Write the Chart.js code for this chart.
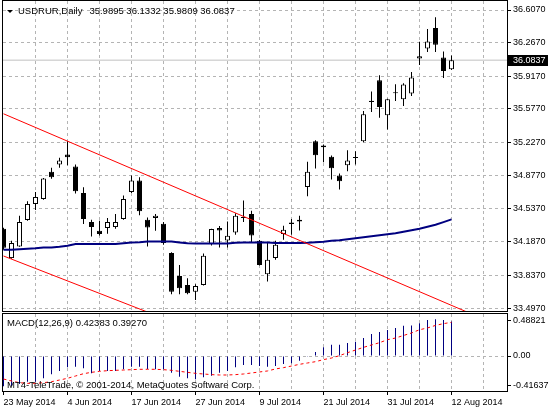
<!DOCTYPE html>
<html><head><meta charset="utf-8">
<script src="https://cdn.jsdelivr.net/npm/chart.js@4.4.1/dist/chart.umd.min.js"></script>
<style>
html,body{margin:0;padding:0;background:#fff;}
#wrap{position:relative;width:550px;height:410px;overflow:hidden;background:#fff;}
canvas{position:absolute;left:0;}
#main{top:0;}
#macd{top:312px;}
</style></head><body>
<div id="wrap"><canvas id="main" width="550" height="312"></canvas><canvas id="macd" width="550" height="98"></canvas></div>
<script>
// ---------- data ----------
const symbolTitle = 'USDRUR,Daily';
const dateLabels = ['23 May 2014','4 Jun 2014','17 Jun 2014','27 Jun 2014','9 Jul 2014','21 Jul 2014','31 Jul 2014','12 Aug 2014'];
const openP = [34.324,34.018,34.139,34.416,34.583,34.635,34.918,34.995,35.099,34.974,34.698,34.395,34.303,34.332,34.342,34.426,34.709,34.827,34.419,34.436,34.377,34.070,33.832,33.738,33.668,33.738,34.164,34.332,34.202,34.286,34.447,34.478,34.199,33.850,34.018,34.269,34.390,34.419,34.761,35.238,35.193,35.075,34.879,34.987,35.063,35.238,35.661,35.874,35.508,35.738,35.675,35.735,36.101,36.206,36.419,36.112,35.9895];
const highP = [34.335,34.199,34.461,34.610,34.709,34.855,34.960,35.065,35.238,34.995,34.757,34.419,34.408,34.436,34.478,34.670,34.879,34.862,34.443,34.478,34.395,34.080,33.947,33.808,33.745,34.066,34.325,34.353,34.401,34.485,34.618,34.513,34.206,34.175,34.199,34.356,34.426,34.461,35.023,35.249,35.204,35.089,34.900,35.144,35.134,35.553,35.756,35.926,35.680,35.832,35.843,35.961,36.275,36.408,36.531,36.175,36.1332];
const lowP = [34.104,34.010,34.136,34.408,34.520,34.628,34.845,34.960,34.987,34.691,34.374,34.244,34.254,34.272,34.324,34.419,34.698,34.464,34.139,34.303,34.157,33.641,33.641,33.641,33.581,33.731,34.149,34.129,34.129,34.262,34.395,34.185,33.940,33.773,34.000,34.209,34.262,34.307,34.663,34.953,35.019,34.837,34.733,34.924,34.995,35.228,35.542,35.483,35.361,35.657,35.605,35.710,36.034,36.170,36.170,35.898,35.9809];
const closeP = [34.125,34.175,34.395,34.583,34.656,34.848,34.862,35.036,35.071,34.715,34.426,34.342,34.269,34.395,34.395,34.635,34.827,34.506,34.338,34.461,34.175,33.668,33.703,33.651,33.728,34.042,34.321,34.307,34.251,34.461,34.436,34.254,33.947,34.000,34.157,34.314,34.374,34.401,34.918,35.092,35.176,34.956,34.820,35.036,35.068,35.518,35.647,35.594,35.675,35.748,35.829,35.902,36.125,36.279,36.244,35.971,36.0837];
const maValues = [34.104,34.104,34.110,34.115,34.120,34.128,34.128,34.136,34.146,34.164,34.164,34.164,34.164,34.164,34.164,34.172,34.181,34.183,34.191,34.191,34.191,34.191,34.181,34.172,34.170,34.170,34.170,34.170,34.170,34.178,34.181,34.181,34.181,34.181,34.175,34.175,34.175,34.175,34.178,34.183,34.188,34.199,34.204,34.215,34.225,34.235,34.246,34.256,34.267,34.277,34.293,34.309,34.324,34.345,34.366,34.393,34.422];
const macdMain = [-0.420,-0.417,-0.389,-0.357,-0.357,-0.310,-0.255,-0.208,-0.158,-0.148,-0.171,-0.241,-0.208,-0.208,-0.208,-0.185,-0.148,-0.148,-0.181,-0.185,-0.185,-0.232,-0.287,-0.310,-0.324,-0.297,-0.273,-0.232,-0.208,-0.158,-0.125,-0.125,-0.139,-0.148,-0.139,-0.111,-0.100,-0.065,-0.005,0.056,0.120,0.158,0.158,0.181,0.199,0.250,0.306,0.334,0.361,0.389,0.420,0.425,0.454,0.500,0.510,0.500,0.480];
const macdSignal = [-0.320,-0.347,-0.371,-0.380,-0.380,-0.371,-0.357,-0.334,-0.310,-0.278,-0.246,-0.227,-0.213,-0.204,-0.199,-0.195,-0.190,-0.185,-0.185,-0.185,-0.190,-0.199,-0.213,-0.227,-0.241,-0.250,-0.259,-0.264,-0.264,-0.259,-0.250,-0.236,-0.222,-0.208,-0.180,-0.162,-0.139,-0.116,-0.097,-0.079,-0.050,-0.028,0.005,0.046,0.083,0.120,0.153,0.185,0.227,0.250,0.285,0.320,0.365,0.390,0.425,0.450,0.468];
const trendUpperX = [0, 60];
const trendUpperY = [35.524, 33.382];
const trendLowerX = [0, 20];
const trendLowerY = [34.040, 33.390];
const bidPrice = 36.0837;
const priceTicks = [36.6070, 36.2670, 35.9170, 35.5770, 35.2270, 34.8770, 34.5370, 34.1870, 33.8370, 33.4970];
const macdTicks = [0.48821, 0, -0.41637];
const macdTickLabels = ['0.48821', '0.00', '-0.41637'];
const gridBars = [0,4,8,12,16,20,24,28,32,36,40,44,48,52,56,60];
const macdHeader = 'MACD(12,26,9) 0.42383 0.39270';
const copyrightText = 'MT4-TeleTrade, \u00A9 2001-2014, MetaQuotes Software Corp.';

// ---------- view ----------
const X_MIN = -0.0625, X_MAX = 62.9375;
const Y_MIN = 33.466, Y_MAX = 36.701;
const M_MIN = -0.4865, M_MAX = 0.5838;
const FAMILY = '"Liberation Sans", Arial, Helvetica, sans-serif';
const FONT = '9.5px ' + FAMILY;
const GRID = '#b4b4b4';
const DASH = [3, 3];

Chart.defaults.font.family = FAMILY;
Chart.defaults.font.size = 9;
Chart.defaults.color = '#000';

const idx = openP.map((_, i) => i);
const headerValues = [openP, highP, lowP, closeP].map(a => a[a.length - 1].toFixed(4)).join(' ');

function xScale(withLabels) {
  return {
    type: 'linear', min: X_MIN, max: X_MAX, offset: false, bounds: 'data',
    grid: {
      offset: false,
      color: c => (c.tick && c.tick.value === 0) ? 'rgba(0,0,0,0)' : GRID,
      lineWidth: 1,
      drawTicks: withLabels, tickLength: 4, tickBorderDash: [],
      tickColor: c => (c.tick && c.tick.value % 8 === 0) ? '#000' : 'rgba(0,0,0,0)'
    },
    border: { display: false, dash: DASH },
    ticks: {
      display: withLabels, autoSkip: false, maxRotation: 0, minRotation: 0,
      align: 'start', padding: 2, color: '#000', font: { size: 9 },
      callback: v => (v % 8 === 0 && dateLabels[v / 8]) ? dateLabels[v / 8] : ''
    },
    afterBuildTicks: s => { s.ticks = gridBars.map(v => ({ value: v })); },
    afterFit: s => { s.height = withLabels ? 19 : 0; s.paddingLeft = 0; s.paddingRight = 0; }
  };
}

function frame(chart) {
  const { ctx, chartArea: a } = chart;
  ctx.save();
  ctx.strokeStyle = '#000'; ctx.lineWidth = 1;
  ctx.strokeRect(a.left - 0.5, a.top - 0.5, a.right - a.left + 1, a.bottom - a.top + 1);
  ctx.restore();
}

const mainDecor = {
  id: 'mainDecor',
  afterDraw(chart) {
    frame(chart);
    const { ctx, chartArea: a, scales: { y } } = chart;
    ctx.save();
    ctx.fillStyle = '#000';
    ctx.beginPath(); ctx.moveTo(7, 10); ctx.lineTo(13, 10); ctx.lineTo(10, 13); ctx.closePath(); ctx.fill();
    ctx.font = FONT; ctx.textBaseline = 'middle'; ctx.textAlign = 'left';
    ctx.fillText(symbolTitle, 18, 11);
    const w = ctx.measureText(symbolTitle).width;
    ctx.fillText(headerValues, 18 + w + 7, 11);
    const py = y.getPixelForValue(bidPrice);
    ctx.fillRect(a.right + 1, Math.round(py) - 5, 40, 11);
    ctx.fillStyle = '#fff';
    ctx.font = '9px ' + FAMILY;
    ctx.fillText(bidPrice.toFixed(4), a.right + 6, py);
    ctx.restore();
  }
};

const macdDecor = {
  id: 'macdDecor',
  afterDraw(chart) {
    frame(chart);
    const { ctx } = chart;
    ctx.save();
    ctx.fillStyle = '#000';
    ctx.font = FONT; ctx.textBaseline = 'middle'; ctx.textAlign = 'left';
    ctx.fillText(macdHeader, 7, 11);
    ctx.fillText(copyrightText, 7, 73);
    ctx.restore();
  }
};

new Chart(document.getElementById('main'), {
  type: 'bar',
  data: {
    datasets: [
      { type: 'line', label: 'Trend upper', data: trendUpperX.map((x, k) => ({ x, y: trendUpperY[k] })),
        borderColor: '#ff0000', borderWidth: 1, pointRadius: 0, tension: 0, clip: 0 },
      { type: 'line', label: 'Trend lower', data: trendLowerX.map((x, k) => ({ x, y: trendLowerY[k] })),
        borderColor: '#ff0000', borderWidth: 1, pointRadius: 0, tension: 0, clip: 0 },
      { type: 'line', label: 'MA', data: idx.map(i => ({ x: i, y: maValues[i] })),
        borderColor: '#000080', borderWidth: 2, pointRadius: 0, tension: 0, clip: 0 },
      { type: 'bar', label: 'Body', data: idx.map(i => ({ x: i, y: [openP[i], closeP[i]] })),
        backgroundColor: c => (c.dataIndex !== undefined && closeP[c.dataIndex] >= openP[c.dataIndex]) ? '#ffffff' : '#000000',
        borderColor: '#000', borderWidth: 1, borderSkipped: false, barThickness: 5, grouped: false,
        minBarLength: 1, inflateAmount: 0, clip: 0 },
      { type: 'bar', label: 'Wick', data: idx.map(i => ({ x: i, y: [lowP[i], highP[i]] })),
        backgroundColor: '#000', borderWidth: 0, barThickness: 1, grouped: false, inflateAmount: 0, clip: 0 },
      { type: 'line', label: 'Bid', data: [{ x: X_MIN, y: bidPrice }, { x: X_MAX, y: bidPrice }],
        borderColor: '#c0c0c0', borderWidth: 1, pointRadius: 0, clip: 0 }
    ]
  },
  options: {
    responsive: false, animation: false, events: [],
    layout: { padding: { left: 3, right: 0, top: 1, bottom: 1 }, autoPadding: false },
    plugins: { legend: { display: false }, tooltip: { enabled: false } },
    scales: {
      x: xScale(false),
      y: {
        type: 'linear', position: 'right', min: Y_MIN, max: Y_MAX, bounds: 'data',
        grid: { color: GRID, lineWidth: 1, drawTicks: true, tickLength: 4, tickColor: '#000', tickBorderDash: [] },
        border: { display: false, dash: DASH },
        ticks: { color: '#000', padding: 2, font: { size: 9 }, callback: v => Number(v).toFixed(4) },
        afterBuildTicks: s => { s.ticks = priceTicks.map(v => ({ value: v })); },
        afterFit: s => { s.width = 43; s.paddingTop = 0; s.paddingBottom = 0; }
      }
    }
  },
  plugins: [mainDecor]
});

new Chart(document.getElementById('macd'), {
  type: 'bar',
  data: {
    datasets: [
      { type: 'line', label: 'Signal', data: idx.map(i => ({ x: i, y: macdSignal[i] })),
        borderColor: '#ff0000', borderWidth: 1, borderDash: [3, 3], pointRadius: 0, tension: 0, clip: 0 },
      { type: 'bar', label: 'MACD', data: idx.map(i => ({ x: i, y: macdMain[i] })),
        backgroundColor: '#000080', borderWidth: 0, barThickness: 1, grouped: false, inflateAmount: 0, clip: 0 }
    ]
  },
  options: {
    responsive: false, animation: false, events: [],
    layout: { padding: { left: 3, right: 0, top: 2, bottom: 0 }, autoPadding: false },
    plugins: { legend: { display: false }, tooltip: { enabled: false } },
    scales: {
      x: xScale(true),
      y: {
        type: 'linear', position: 'right', min: M_MIN, max: M_MAX, bounds: 'data',
        grid: { color: c => (c.tick && c.tick.value === 0) ? GRID : 'rgba(0,0,0,0)', lineWidth: 1,
          drawTicks: true, tickLength: 4, tickColor: '#000', tickBorderDash: [] },
        border: { display: false, dash: DASH },
        ticks: { color: '#000', padding: 2, font: { size: 9 }, callback: (v, i) => macdTickLabels[i] },
        afterBuildTicks: s => { s.ticks = macdTicks.map(v => ({ value: v })); },
        afterFit: s => { s.width = 43; s.paddingTop = 0; s.paddingBottom = 0; }
      }
    }
  },
  plugins: [macdDecor]
});
</script>
</body></html>
